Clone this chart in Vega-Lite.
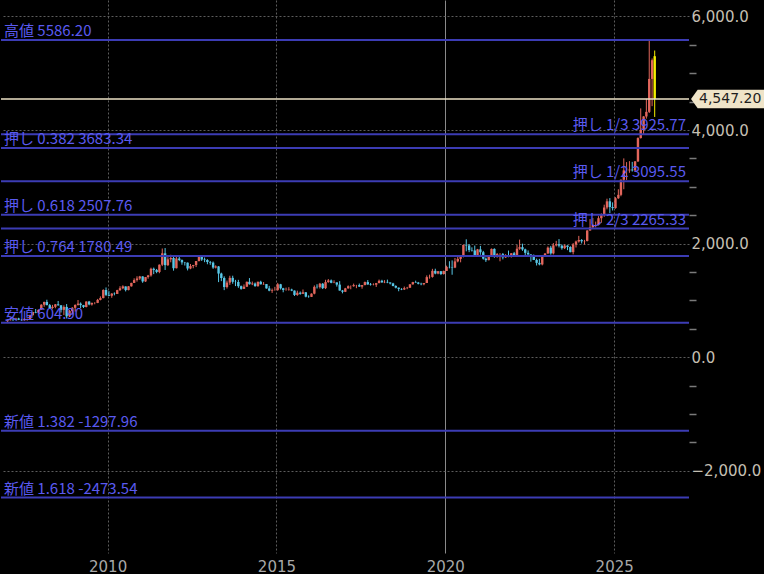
{
  "$schema": "https://vega.github.io/schema/vega-lite/v6.json",
  "width": 688,
  "height": 553,
  "padding": 0,
  "autosize": {"type": "pad"},
  "background": "#000000",
  "config": {"view": {"stroke": null}, "font": "DejaVu Sans"},
  "datasets": {
    "candles": [
      {"d":"2007-01-15","o":632,"h":660,"l":604.9,"c":650},
      {"d":"2007-02-15","o":650,"h":690,"l":645,"c":665},
      {"d":"2007-03-15","o":665,"h":672,"l":636,"c":662},
      {"d":"2007-04-15","o":662,"h":692,"l":660,"c":680},
      {"d":"2007-05-15","o":680,"h":693,"l":652,"c":659},
      {"d":"2007-06-15","o":659,"h":672,"l":642,"c":650},
      {"d":"2007-07-15","o":650,"h":684,"l":648,"c":665},
      {"d":"2007-08-15","o":665,"h":677,"l":642,"c":673},
      {"d":"2007-09-15","o":673,"h":745,"l":671,"c":743},
      {"d":"2007-10-15","o":743,"h":796,"l":723,"c":795},
      {"d":"2007-11-15","o":795,"h":848,"l":774,"c":783},
      {"d":"2007-12-15","o":783,"h":838,"l":780,"c":834},
      {"d":"2008-01-15","o":834,"h":932,"l":834,"c":923},
      {"d":"2008-02-15","o":923,"h":976,"l":887,"c":972},
      {"d":"2008-03-15","o":972,"h":1011,"l":912,"c":916},
      {"d":"2008-04-15","o":916,"h":935,"l":858,"c":865},
      {"d":"2008-05-15","o":865,"h":920,"l":850,"c":886},
      {"d":"2008-06-15","o":886,"h":935,"l":861,"c":930},
      {"d":"2008-07-15","o":930,"h":989,"l":905,"c":913},
      {"d":"2008-08-15","o":913,"h":915,"l":786,"c":833},
      {"d":"2008-09-15","o":833,"h":912,"l":740,"c":884},
      {"d":"2008-10-15","o":884,"h":935,"l":681,"c":718},
      {"d":"2008-11-15","o":718,"h":830,"l":705,"c":814},
      {"d":"2008-12-15","o":814,"h":881,"l":752,"c":869},
      {"d":"2009-01-15","o":869,"h":930,"l":802,"c":919},
      {"d":"2009-02-15","o":919,"h":1005,"l":908,"c":942},
      {"d":"2009-03-15","o":942,"h":963,"l":865,"c":916},
      {"d":"2009-04-15","o":916,"h":920,"l":865,"c":883},
      {"d":"2009-05-15","o":883,"h":982,"l":876,"c":979},
      {"d":"2009-06-15","o":979,"h":990,"l":913,"c":927},
      {"d":"2009-07-15","o":927,"h":960,"l":908,"c":955},
      {"d":"2009-08-15","o":955,"h":968,"l":931,"c":955},
      {"d":"2009-09-15","o":955,"h":1025,"l":951,"c":1008},
      {"d":"2009-10-15","o":1008,"h":1070,"l":1000,"c":1040},
      {"d":"2009-11-15","o":1040,"h":1195,"l":1035,"c":1182},
      {"d":"2009-12-15","o":1182,"h":1227,"l":1075,"c":1096},
      {"d":"2010-01-15","o":1096,"h":1162,"l":1075,"c":1081},
      {"d":"2010-02-15","o":1081,"h":1128,"l":1045,"c":1118},
      {"d":"2010-03-15","o":1118,"h":1140,"l":1088,"c":1113},
      {"d":"2010-04-15","o":1113,"h":1186,"l":1113,"c":1180},
      {"d":"2010-05-15","o":1180,"h":1249,"l":1166,"c":1213},
      {"d":"2010-06-15","o":1213,"h":1265,"l":1196,"c":1245},
      {"d":"2010-07-15","o":1245,"h":1245,"l":1157,"c":1181},
      {"d":"2010-08-15","o":1181,"h":1251,"l":1176,"c":1247},
      {"d":"2010-09-15","o":1247,"h":1310,"l":1242,"c":1307},
      {"d":"2010-10-15","o":1307,"h":1388,"l":1305,"c":1357},
      {"d":"2010-11-15","o":1357,"h":1424,"l":1330,"c":1385},
      {"d":"2010-12-15","o":1385,"h":1431,"l":1360,"c":1421},
      {"d":"2011-01-15","o":1421,"h":1424,"l":1309,"c":1333},
      {"d":"2011-02-15","o":1333,"h":1412,"l":1325,"c":1410},
      {"d":"2011-03-15","o":1410,"h":1448,"l":1381,"c":1439},
      {"d":"2011-04-15","o":1439,"h":1575,"l":1417,"c":1556},
      {"d":"2011-05-15","o":1556,"h":1577,"l":1462,"c":1536},
      {"d":"2011-06-15","o":1536,"h":1553,"l":1478,"c":1500},
      {"d":"2011-07-15","o":1500,"h":1632,"l":1478,"c":1628},
      {"d":"2011-08-15","o":1628,"h":1913,"l":1603,"c":1828},
      {"d":"2011-09-15","o":1828,"h":1921,"l":1535,"c":1620},
      {"d":"2011-10-15","o":1620,"h":1760,"l":1604,"c":1722},
      {"d":"2011-11-15","o":1722,"h":1803,"l":1670,"c":1746},
      {"d":"2011-12-15","o":1746,"h":1764,"l":1523,"c":1566},
      {"d":"2012-01-15","o":1566,"h":1764,"l":1562,"c":1737},
      {"d":"2012-02-15","o":1737,"h":1791,"l":1690,"c":1710},
      {"d":"2012-03-15","o":1710,"h":1720,"l":1627,"c":1669},
      {"d":"2012-04-15","o":1669,"h":1677,"l":1613,"c":1664},
      {"d":"2012-05-15","o":1664,"h":1666,"l":1527,"c":1561},
      {"d":"2012-06-15","o":1561,"h":1640,"l":1548,"c":1604},
      {"d":"2012-07-15","o":1604,"h":1625,"l":1565,"c":1622},
      {"d":"2012-08-15","o":1622,"h":1693,"l":1586,"c":1692},
      {"d":"2012-09-15","o":1692,"h":1788,"l":1686,"c":1773},
      {"d":"2012-10-15","o":1773,"h":1796,"l":1694,"c":1719},
      {"d":"2012-11-15","o":1719,"h":1754,"l":1672,"c":1711},
      {"d":"2012-12-15","o":1711,"h":1725,"l":1636,"c":1675},
      {"d":"2013-01-15","o":1675,"h":1694,"l":1626,"c":1664},
      {"d":"2013-02-15","o":1664,"h":1684,"l":1555,"c":1578},
      {"d":"2013-03-15","o":1578,"h":1617,"l":1562,"c":1597},
      {"d":"2013-04-15","o":1597,"h":1604,"l":1321,"c":1472},
      {"d":"2013-05-15","o":1472,"h":1487,"l":1338,"c":1393},
      {"d":"2013-06-15","o":1393,"h":1423,"l":1180,"c":1234},
      {"d":"2013-07-15","o":1234,"h":1348,"l":1208,"c":1313},
      {"d":"2013-08-15","o":1313,"h":1433,"l":1272,"c":1396},
      {"d":"2013-09-15","o":1396,"h":1434,"l":1292,"c":1327},
      {"d":"2013-10-15","o":1327,"h":1361,"l":1251,"c":1323},
      {"d":"2013-11-15","o":1323,"h":1361,"l":1221,"c":1250},
      {"d":"2013-12-15","o":1250,"h":1261,"l":1187,"c":1202},
      {"d":"2014-01-15","o":1202,"h":1280,"l":1202,"c":1240},
      {"d":"2014-02-15","o":1240,"h":1332,"l":1238,"c":1326},
      {"d":"2014-03-15","o":1326,"h":1392,"l":1277,"c":1284},
      {"d":"2014-04-15","o":1284,"h":1331,"l":1268,"c":1296},
      {"d":"2014-05-15","o":1296,"h":1315,"l":1240,"c":1250},
      {"d":"2014-06-15","o":1250,"h":1330,"l":1240,"c":1327},
      {"d":"2014-07-15","o":1327,"h":1345,"l":1281,"c":1282},
      {"d":"2014-08-15","o":1282,"h":1322,"l":1273,"c":1287},
      {"d":"2014-09-15","o":1287,"h":1288,"l":1206,"c":1210},
      {"d":"2014-10-15","o":1210,"h":1255,"l":1160,"c":1171},
      {"d":"2014-11-15","o":1171,"h":1208,"l":1131,"c":1182},
      {"d":"2014-12-15","o":1182,"h":1238,"l":1170,"c":1184},
      {"d":"2015-01-15","o":1184,"h":1307,"l":1167,"c":1283},
      {"d":"2015-02-15","o":1283,"h":1290,"l":1190,"c":1212},
      {"d":"2015-03-15","o":1212,"h":1220,"l":1142,"c":1183},
      {"d":"2015-04-15","o":1183,"h":1224,"l":1170,"c":1184},
      {"d":"2015-05-15","o":1184,"h":1232,"l":1170,"c":1190},
      {"d":"2015-06-15","o":1190,"h":1205,"l":1162,"c":1172},
      {"d":"2015-07-15","o":1172,"h":1174,"l":1077,"c":1095},
      {"d":"2015-08-15","o":1095,"h":1170,"l":1080,"c":1134},
      {"d":"2015-09-15","o":1134,"h":1156,"l":1099,"c":1115},
      {"d":"2015-10-15","o":1115,"h":1191,"l":1112,"c":1142},
      {"d":"2015-11-15","o":1142,"h":1145,"l":1053,"c":1065},
      {"d":"2015-12-15","o":1065,"h":1088,"l":1046,"c":1061},
      {"d":"2016-01-15","o":1061,"h":1123,"l":1061,"c":1118},
      {"d":"2016-02-15","o":1118,"h":1263,"l":1106,"c":1238},
      {"d":"2016-03-15","o":1238,"h":1283,"l":1208,"c":1233},
      {"d":"2016-04-15","o":1233,"h":1307,"l":1208,"c":1293},
      {"d":"2016-05-15","o":1293,"h":1304,"l":1199,"c":1215},
      {"d":"2016-06-15","o":1215,"h":1362,"l":1199,"c":1321},
      {"d":"2016-07-15","o":1321,"h":1375,"l":1310,"c":1351},
      {"d":"2016-08-15","o":1351,"h":1367,"l":1301,"c":1309},
      {"d":"2016-09-15","o":1309,"h":1353,"l":1302,"c":1316},
      {"d":"2016-10-15","o":1316,"h":1317,"l":1242,"c":1277},
      {"d":"2016-11-15","o":1277,"h":1338,"l":1171,"c":1173},
      {"d":"2016-12-15","o":1173,"h":1183,"l":1123,"c":1151},
      {"d":"2017-01-15","o":1151,"h":1220,"l":1146,"c":1211},
      {"d":"2017-02-15","o":1211,"h":1264,"l":1206,"c":1249},
      {"d":"2017-03-15","o":1249,"h":1262,"l":1195,"c":1249},
      {"d":"2017-04-15","o":1249,"h":1295,"l":1240,"c":1268},
      {"d":"2017-05-15","o":1268,"h":1273,"l":1214,"c":1269},
      {"d":"2017-06-15","o":1269,"h":1296,"l":1236,"c":1242},
      {"d":"2017-07-15","o":1242,"h":1270,"l":1205,"c":1269},
      {"d":"2017-08-15","o":1269,"h":1331,"l":1265,"c":1322},
      {"d":"2017-09-15","o":1322,"h":1357,"l":1275,"c":1280},
      {"d":"2017-10-15","o":1280,"h":1306,"l":1260,"c":1271},
      {"d":"2017-11-15","o":1271,"h":1299,"l":1264,"c":1275},
      {"d":"2017-12-15","o":1275,"h":1307,"l":1236,"c":1303},
      {"d":"2018-01-15","o":1303,"h":1366,"l":1302,"c":1345},
      {"d":"2018-02-15","o":1345,"h":1362,"l":1307,"c":1318},
      {"d":"2018-03-15","o":1318,"h":1356,"l":1303,"c":1325},
      {"d":"2018-04-15","o":1325,"h":1365,"l":1302,"c":1315},
      {"d":"2018-05-15","o":1315,"h":1317,"l":1281,"c":1298},
      {"d":"2018-06-15","o":1298,"h":1309,"l":1247,"c":1253},
      {"d":"2018-07-15","o":1253,"h":1266,"l":1211,"c":1224},
      {"d":"2018-08-15","o":1224,"h":1225,"l":1160,"c":1201},
      {"d":"2018-09-15","o":1201,"h":1214,"l":1180,"c":1192},
      {"d":"2018-10-15","o":1192,"h":1243,"l":1182,"c":1215},
      {"d":"2018-11-15","o":1215,"h":1237,"l":1196,"c":1222},
      {"d":"2018-12-15","o":1222,"h":1284,"l":1221,"c":1282},
      {"d":"2019-01-15","o":1282,"h":1326,"l":1276,"c":1321},
      {"d":"2019-02-15","o":1321,"h":1347,"l":1310,"c":1313},
      {"d":"2019-03-15","o":1313,"h":1324,"l":1281,"c":1292},
      {"d":"2019-04-15","o":1292,"h":1310,"l":1266,"c":1284},
      {"d":"2019-05-15","o":1284,"h":1306,"l":1266,"c":1305},
      {"d":"2019-06-15","o":1305,"h":1439,"l":1305,"c":1409},
      {"d":"2019-07-15","o":1409,"h":1453,"l":1382,"c":1413},
      {"d":"2019-08-15","o":1413,"h":1555,"l":1400,"c":1520},
      {"d":"2019-09-15","o":1520,"h":1557,"l":1459,"c":1472},
      {"d":"2019-10-15","o":1472,"h":1517,"l":1459,"c":1513},
      {"d":"2019-11-15","o":1513,"h":1516,"l":1445,"c":1464},
      {"d":"2019-12-15","o":1464,"h":1524,"l":1454,"c":1517},
      {"d":"2020-01-15","o":1517,"h":1611,"l":1517,"c":1589},
      {"d":"2020-02-15","o":1589,"h":1689,"l":1563,"c":1585},
      {"d":"2020-03-15","o":1585,"h":1704,"l":1451,"c":1577},
      {"d":"2020-04-15","o":1577,"h":1747,"l":1567,"c":1686},
      {"d":"2020-05-15","o":1686,"h":1765,"l":1670,"c":1730},
      {"d":"2020-06-15","o":1730,"h":1789,"l":1670,"c":1781},
      {"d":"2020-07-15","o":1781,"h":1984,"l":1757,"c":1975},
      {"d":"2020-08-15","o":1975,"h":2075,"l":1863,"c":1967},
      {"d":"2020-09-15","o":1967,"h":1992,"l":1849,"c":1886},
      {"d":"2020-10-15","o":1886,"h":1933,"l":1860,"c":1879},
      {"d":"2020-11-15","o":1879,"h":1965,"l":1764,"c":1776},
      {"d":"2020-12-15","o":1776,"h":1906,"l":1775,"c":1898},
      {"d":"2021-01-15","o":1898,"h":1959,"l":1802,"c":1847},
      {"d":"2021-02-15","o":1847,"h":1871,"l":1717,"c":1734},
      {"d":"2021-03-15","o":1734,"h":1755,"l":1677,"c":1708},
      {"d":"2021-04-15","o":1708,"h":1798,"l":1705,"c":1769},
      {"d":"2021-05-15","o":1769,"h":1913,"l":1765,"c":1906},
      {"d":"2021-06-15","o":1906,"h":1916,"l":1750,"c":1770},
      {"d":"2021-07-15","o":1770,"h":1833,"l":1751,"c":1814},
      {"d":"2021-08-15","o":1814,"h":1831,"l":1688,"c":1814},
      {"d":"2021-09-15","o":1814,"h":1834,"l":1721,"c":1757},
      {"d":"2021-10-15","o":1757,"h":1814,"l":1746,"c":1783},
      {"d":"2021-11-15","o":1783,"h":1877,"l":1759,"c":1775},
      {"d":"2021-12-15","o":1775,"h":1831,"l":1753,"c":1829},
      {"d":"2022-01-15","o":1829,"h":1853,"l":1780,"c":1796},
      {"d":"2022-02-15","o":1796,"h":1974,"l":1782,"c":1909},
      {"d":"2022-03-15","o":1909,"h":2070,"l":1890,"c":1937},
      {"d":"2022-04-15","o":1937,"h":1998,"l":1872,"c":1897},
      {"d":"2022-05-15","o":1897,"h":1910,"l":1787,"c":1837},
      {"d":"2022-06-15","o":1837,"h":1879,"l":1805,"c":1807},
      {"d":"2022-07-15","o":1807,"h":1814,"l":1681,"c":1766},
      {"d":"2022-08-15","o":1766,"h":1808,"l":1709,"c":1711},
      {"d":"2022-09-15","o":1711,"h":1735,"l":1614,"c":1660},
      {"d":"2022-10-15","o":1660,"h":1730,"l":1617,"c":1633},
      {"d":"2022-11-15","o":1633,"h":1786,"l":1616,"c":1768},
      {"d":"2022-12-15","o":1768,"h":1833,"l":1765,"c":1824},
      {"d":"2023-01-15","o":1824,"h":1949,"l":1823,"c":1928},
      {"d":"2023-02-15","o":1928,"h":1959,"l":1804,"c":1827},
      {"d":"2023-03-15","o":1827,"h":2009,"l":1809,"c":1969},
      {"d":"2023-04-15","o":1969,"h":2048,"l":1949,"c":1990},
      {"d":"2023-05-15","o":1990,"h":2079,"l":1932,"c":1963},
      {"d":"2023-06-15","o":1963,"h":1984,"l":1893,"c":1919},
      {"d":"2023-07-15","o":1919,"h":1987,"l":1903,"c":1965},
      {"d":"2023-08-15","o":1965,"h":1970,"l":1884,"c":1940},
      {"d":"2023-09-15","o":1940,"h":1953,"l":1846,"c":1849},
      {"d":"2023-10-15","o":1849,"h":2009,"l":1810,"c":1983},
      {"d":"2023-11-15","o":1983,"h":2052,"l":1931,"c":2036},
      {"d":"2023-12-15","o":2036,"h":2135,"l":2017,"c":2063},
      {"d":"2024-01-15","o":2063,"h":2079,"l":2002,"c":2040},
      {"d":"2024-02-15","o":2040,"h":2065,"l":1984,"c":2044},
      {"d":"2024-03-15","o":2044,"h":2236,"l":2039,"c":2230},
      {"d":"2024-04-15","o":2230,"h":2431,"l":2228,"c":2286},
      {"d":"2024-05-15","o":2286,"h":2450,"l":2277,"c":2327},
      {"d":"2024-06-15","o":2327,"h":2387,"l":2286,"c":2327},
      {"d":"2024-07-15","o":2327,"h":2483,"l":2319,"c":2447},
      {"d":"2024-08-15","o":2447,"h":2531,"l":2364,"c":2503},
      {"d":"2024-09-15","o":2503,"h":2685,"l":2471,"c":2635},
      {"d":"2024-10-15","o":2635,"h":2790,"l":2603,"c":2744},
      {"d":"2024-11-15","o":2744,"h":2801,"l":2536,"c":2643},
      {"d":"2024-12-15","o":2643,"h":2726,"l":2583,"c":2625},
      {"d":"2025-01-15","o":2625,"h":2817,"l":2614,"c":2798},
      {"d":"2025-02-15","o":2798,"h":2956,"l":2788,"c":2858},
      {"d":"2025-03-15","o":2858,"h":3128,"l":2833,"c":3124},
      {"d":"2025-04-15","o":3124,"h":3500,"l":2957,"c":3289},
      {"d":"2025-05-15","o":3289,"h":3435,"l":3121,"c":3289},
      {"d":"2025-06-15","o":3289,"h":3452,"l":3247,"c":3303},
      {"d":"2025-07-15","o":3303,"h":3439,"l":3268,"c":3290},
      {"d":"2025-08-15","o":3290,"h":3453,"l":3268,"c":3448},
      {"d":"2025-09-15","o":3448,"h":3871,"l":3436,"c":3858},
      {"d":"2025-10-15","o":3858,"h":4381,"l":3850,"c":4002},
      {"d":"2025-11-15","o":4002,"h":4245,"l":3930,"c":4239},
      {"d":"2025-12-15","o":4239,"h":4550,"l":4200,"c":4320},
      {"d":"2026-01-15","o":4320,"h":5586.2,"l":4300,"c":4900},
      {"d":"2026-02-15","o":4900,"h":5260,"l":4420,"c":5230},
      {"d":"2026-03-15","o":5300,"h":5400,"l":4230,"c":4547.2}
    ],
    "leftLevels": [
      {"v": 5586.2, "label": "高値 5586.20"},
      {"v": 3683.34, "label": "押し 0.382 3683.34"},
      {"v": 2507.76, "label": "押し 0.618 2507.76"},
      {"v": 1780.49, "label": "押し 0.764 1780.49"},
      {"v": 604.9, "label": "安値 604.90"},
      {"v": -1297.96, "label": "新値 1.382 -1297.96"},
      {"v": -2473.54, "label": "新値 1.618 -2473.54"}
    ],
    "rightLevels": [
      {"v": 3925.77, "label": "押し 1/3 3925.77"},
      {"v": 3095.55, "label": "押し 1/2 3095.55"},
      {"v": 2265.33, "label": "押し 2/3 2265.33"}
    ],
    "price": [
      {"v": 4547.2, "label": "4,547.20"}
    ]
  },
  "encoding": {
    "y": {
      "type": "quantitative",
      "scale": {"domain": [-3450, 6290], "nice": false, "zero": false},
      "axis": {
        "orient": "right",
        "title": null,
        "values": [-2000,-1500,-1000,-500,0,500,1000,1500,2000,2500,3000,3500,4000,4500,5000,5500,6000],
        "labelExpr": "datum.value % 2000 === 0 ? format(datum.value, ',.1f') : ''",
        "labelColor": "#c4bfb2",
        "labelFont": "DejaVu Sans",
        "labelFontSize": 15,
        "labelAlign": "left",
        "labelPadding": -5,
        "labelOverlap": false,
        "labelBound": false,
        "tickSize": 7,
        "tickWidth": 1.5,
        "tickColor": "#7a7a7a",
        "tickOpacity": {"condition": {"test": "datum.value % 2000 === 0", "value": 0}, "value": 1},
        "grid": true,
        "gridColor": "#5c5c5c",
        "gridDash": [2, 2],
        "gridOpacity": {"condition": {"test": "datum.value % 2000 === 0", "value": 1}, "value": 0},
        "domain": false
      }
    }
  },
  "layer": [
    {
      "data": {"name": "candles"},
      "mark": {"type": "rule", "clip": true, "strokeWidth": 1},
      "encoding": {
        "x": {
          "field": "d",
          "type": "temporal",
          "scale": {"type": "utc", "domain": [{"year": 2006, "month": 12, "date": 29, "utc": true}, {"year": 2027, "month": 1, "date": 26, "utc": true}]},
          "axis": {
            "orient": "bottom",
            "title": null,
            "values": [{"year": 2010, "month": 1, "date": 1, "utc": true}, {"year": 2015, "month": 1, "date": 1, "utc": true}, {"year": 2020, "month": 1, "date": 1, "utc": true}, {"year": 2025, "month": 1, "date": 1, "utc": true}],
            "format": "%Y",
            "formatType": "utc",
            "labelColor": "#a8a8a8",
            "labelFont": "DejaVu Sans",
            "labelFontSize": 15,
            "labelPadding": 6,
            "ticks": false,
            "domain": false,
            "grid": true,
            "gridColor": {"condition": {"test": "utcyear(datum.value) === 2020", "value": "#8a8a8a"}, "value": "#5c5c5c"},
            "gridDash": {"condition": {"test": "utcyear(datum.value) === 2020", "value": []}, "value": [2, 2]}
          }
        },
        "y": {"field": "l", "type": "quantitative"},
        "y2": {"field": "h"},
        "color": {"condition": [{"test": "datum.c === 4547.2", "value": "#f5ef00"}, {"test": "datum.c >= datum.o", "value": "#e2665c"}], "value": "#57c6e6"}
      }
    },
    {
      "data": {"name": "candles"},
      "mark": {"type": "bar", "clip": true, "width": 2.4},
      "encoding": {
        "x": {"field": "d", "type": "temporal"},
        "y": {"field": "o", "type": "quantitative"},
        "y2": {"field": "c"},
        "color": {"condition": [{"test": "datum.c === 4547.2", "value": "#f5ef00"}, {"test": "datum.c >= datum.o", "value": "#e2665c"}], "value": "#57c6e6"}
      }
    },
    {
      "data": {"name": "leftLevels"},
      "mark": {"type": "rule", "color": "#3c3cb4", "strokeWidth": 2},
      "encoding": {"y": {"field": "v", "type": "quantitative"}}
    },
    {
      "data": {"name": "rightLevels"},
      "mark": {"type": "rule", "color": "#3c3cb4", "strokeWidth": 2},
      "encoding": {"y": {"field": "v", "type": "quantitative"}}
    },
    {
      "data": {"name": "price"},
      "mark": {"type": "rule", "color": "#ece2c6", "strokeWidth": 1.5},
      "encoding": {"y": {"field": "v", "type": "quantitative"}}
    },
    {
      "data": {"name": "leftLevels"},
      "mark": {"type": "text", "align": "left", "baseline": "alphabetic", "dx": 3, "dy": -4, "font": "Noto Sans CJK JP", "fontSize": 15, "color": "#5a5af0"},
      "encoding": {"x": {"value": 0}, "y": {"field": "v", "type": "quantitative"}, "text": {"field": "label"}}
    },
    {
      "data": {"name": "rightLevels"},
      "mark": {"type": "text", "align": "right", "baseline": "alphabetic", "dx": -3, "dy": -4, "font": "Noto Sans CJK JP", "fontSize": 15, "color": "#5a5af0"},
      "encoding": {"x": {"value": "width"}, "y": {"field": "v", "type": "quantitative"}, "text": {"field": "label"}}
    },
    {
      "data": {"name": "price"},
      "mark": {"type": "point", "filled": true, "opacity": 1, "color": "#efe4c8", "size": 5476, "xOffset": 39, "shape": "M-1,0L-0.82,-0.25L1,-0.25L1,0.25L-0.82,0.25Z"},
      "encoding": {"x": {"value": "width"}, "y": {"field": "v", "type": "quantitative"}}
    },
    {
      "data": {"name": "price"},
      "mark": {"type": "text", "align": "left", "baseline": "middle", "dx": 10, "font": "DejaVu Sans", "fontSize": 14, "color": "#1e1e1e"},
      "encoding": {"x": {"value": "width"}, "y": {"field": "v", "type": "quantitative"}, "text": {"field": "label"}}
    }
  ]
}
